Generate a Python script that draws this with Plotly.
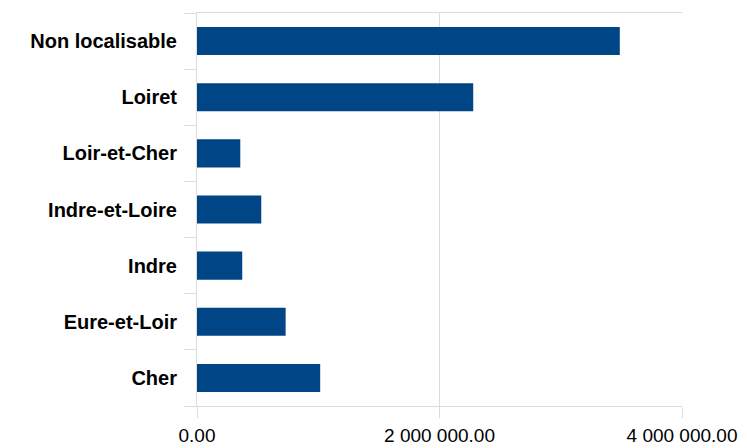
import plotly.graph_objects as go

# Departments (bottom to top as drawn) and their amounts
departements = ["Cher", "Eure-et-Loir", "Indre", "Indre-et-Loire",
                "Loir-et-Cher", "Loiret", "Non localisable"]
montants = [1016000, 731000, 373000, 530000, 357000, 2278000, 3487000]

tick_vals = [0, 2000000, 4000000]
tick_text = ["0.00", "2 000 000.00", "4 000 000.00"]

grid = "#dcdcdc"
font_family = "Liberation Sans, Arial, sans-serif"

fig = go.Figure(
    go.Bar(
        x=montants,
        y=departements,
        orientation="h",
        marker=dict(color="#004586", line=dict(width=0)),
        hoverinfo="x+y",
    )
)

fig.update_layout(
    width=747,
    height=448,
    margin=dict(l=197, r=65, t=13, b=42, autoexpand=False),
    paper_bgcolor="white",
    plot_bgcolor="white",
    bargap=0.5,
    showlegend=False,
    font=dict(family=font_family, color="black"),
)

fig.update_xaxes(
    range=[0, 4000000],
    tickvals=tick_vals,
    ticktext=tick_text,
    tickfont=dict(size=19, color="black", family=font_family),
    showgrid=True,
    gridcolor=grid,
    gridwidth=1,
    zeroline=False,
    showline=True,
    mirror=True,
    linecolor=grid,
    linewidth=1,
    ticks="outside",
    ticklen=11,
    tickcolor=grid,
    ticklabelstandoff=1,
    automargin=False,
)

fig.update_yaxes(
    categoryorder="array",
    categoryarray=departements,
    tickfont=dict(size=20, color="black", family=font_family, weight="bold"),
    showgrid=False,
    zeroline=False,
    showline=True,
    linecolor=grid,
    linewidth=1,
    ticks="outside",
    tickson="boundaries",
    ticklen=12,
    tickcolor=grid,
    ticklabelstandoff=15,
    automargin=False,
)

fig.write_html("out.html")
